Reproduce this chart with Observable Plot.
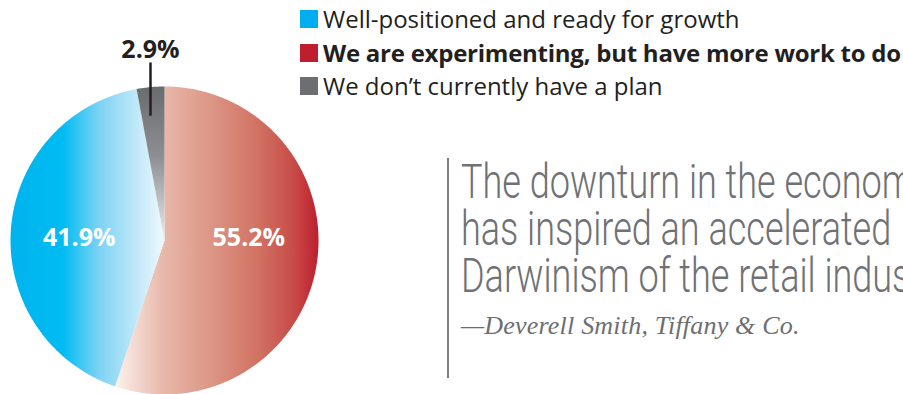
<!DOCTYPE html>
<html><head><meta charset="utf-8">
<script src="https://cdn.jsdelivr.net/npm/d3@7"></script>
<script src="https://cdn.jsdelivr.net/npm/@observablehq/plot@0.6"></script>
<style>
body{margin:0;background:#fff;}
#wrap{position:relative;width:903px;height:394px;overflow:hidden;background:#fff;}
#chart{position:absolute;left:0;top:0;}
.leg-row{position:absolute;left:300px;height:33.5px;line-height:33.5px;white-space:nowrap;font-family:'Open Sans',sans-serif;font-size:24px;color:#231f20;}
.leg-sw{position:absolute;left:0;top:8px;width:18px;height:18px;}
.leg-tx{position:absolute;left:23px;top:0;}
.leg-bold{font-weight:700;letter-spacing:-0.25px;}
#qbar{position:absolute;left:447px;top:158px;width:2px;height:220px;background:#808080;}
#quote{position:absolute;left:461px;top:158px;white-space:nowrap;}
.ql{font-family:Roboto,sans-serif;font-weight:300;font-size:49px;line-height:47px;height:47px;color:#707174;transform:scaleX(0.735);transform-origin:0 0;}
.qa{font-family:'Liberation Serif',serif;font-style:italic;font-size:26px;line-height:30px;color:#6d6e71;margin-top:12px;letter-spacing:0.2px;}
</style>
</head><body>
<div id="wrap">
  <div id="chart"></div>
  <div id="legend"></div>
  <div id="qbar"></div>
  <div id="quote"></div>
</div>
<script>
// ---- data ----
const categories = [
  "Well-positioned and ready for growth",
  "We are experimenting, but have more work to do",
  "We don\u2019t currently have a plan"
];
const keys = ["ready", "experimenting", "noplan"];
const shares = [41.9, 55.2, 2.9];
const shareLabels = ["41.9%", "55.2%", "2.9%"];
const swatchColors = ["#00aeef", "#be1e2d", "#6d6e71"];
const pieOrder = ["experimenting", "ready", "noplan"]; // clockwise from 12 o'clock
const quoteLines = [
  "The downturn in the economy",
  "has inspired an accelerated",
  "Darwinism of the retail industry"
];
const quoteAuthor = "\u2014Deverell Smith, Tiffany & Co.";

// ---- pie geometry (unit circle, y up) ----
const rows = keys.map((k, i) => ({key: k, category: categories[i], share: shares[i], label: shareLabels[i]}));
const ordered = pieOrder.map(k => rows.find(r => r.key === k));
const arcs = d3.pie().sort(null).value(d => d.share)(ordered);
const step = Math.PI / 360;
const slicePoints = arcs.map(a => {
  const pts = [{x: 0, y: 0}];
  const n = Math.max(2, Math.ceil((a.endAngle - a.startAngle) / step));
  for (let j = 0; j <= n; j++) {
    const t = a.startAngle + (a.endAngle - a.startAngle) * j / n;
    pts.push({x: Math.sin(t), y: Math.cos(t)});
  }
  return {key: a.data.key, pts};
});
const mid = a => (a.startAngle + a.endAngle) / 2;
const inside = arcs.filter(a => a.data.key !== "noplan").map(a => ({x: 0.555 * Math.sin(mid(a)), y: 0, label: a.data.label}));
const small = arcs.filter(a => a.data.key === "noplan").map(a => ({x: Math.sin(mid(a)), label: a.data.label}));

const marks = slicePoints.map(s =>
  Plot.line(s.pts, {x: "x", y: "y", fill: `url(#grad-${s.key})`, stroke: "none", curve: "linear-closed"})
);
marks.push(
  Plot.text(inside, {x: "x", y: "y", text: "label", fill: "#ffffff", fontFamily: "'Open Sans', sans-serif", fontWeight: 700, fontSize: 25, dy: -3}),
  Plot.link(small, {x1: "x", x2: "x", y1: () => 0.81, y2: () => 1.156, stroke: "#231f20", strokeWidth: 2.5}),
  Plot.text(small, {x: "x", y: () => 1.235, text: "label", fill: "#231f20", fontFamily: "'Open Sans', sans-serif", fontWeight: 700, fontSize: 25})
);

const svg = Plot.plot({
  width: 903, height: 394,
  marginTop: 0, marginRight: 0, marginBottom: 0, marginLeft: 0,
  x: {domain: [-1, 1], range: [10, 318], axis: null},
  y: {domain: [-1, 1], range: [394, 86], axis: null},
  style: {background: "transparent", overflow: "visible"},
  marks
});

// gradients
const gradients = {
  ready: {dir: [0, 0, 1, 0], stops: [[0, "#00b3ee"], [0.34, "#00bcf2"], [0.58, "#7fd3f4"], [0.84, "#c6eaf9"], [1, "#eef9fe"]]},
  experimenting: {dir: [0, 0, 1, 0], stops: [[0, "#fcf2ee"], [0.23, "#e8b9ab"], [0.47, "#dc9686"], [0.7, "#d17263"], [0.88, "#c84b48"], [1, "#bd1e2d"]]},
  noplan: {dir: [0, 0, 0, 1], stops: [[0, "#6a6b6e"], [0.45, "#8d8e91"], [1, "#ececec"]]}
};
const defs = d3.select(svg).insert("defs", ":first-child");
for (const [k, g] of Object.entries(gradients)) {
  const lg = defs.append("linearGradient").attr("id", `grad-${k}`)
    .attr("x1", g.dir[0]).attr("y1", g.dir[1]).attr("x2", g.dir[2]).attr("y2", g.dir[3]);
  for (const [o, c] of g.stops) lg.append("stop").attr("offset", o).attr("stop-color", c);
}
document.getElementById("chart").appendChild(svg);

// legend
const legend = d3.select("#legend");
categories.forEach((cat, i) => {
  const row = legend.append("div").attr("class", "leg-row").style("top", `${2 + i * 33.5}px`);
  row.append("div").attr("class", "leg-sw").style("background", swatchColors[i]);
  row.append("div").attr("class", keys[i] === "experimenting" ? "leg-tx leg-bold" : "leg-tx").text(cat);
});

// quote
const q = d3.select("#quote");
quoteLines.forEach(l => q.append("div").attr("class", "ql").text(l));
q.append("div").attr("class", "qa").text(quoteAuthor);
</script>
</body></html>
